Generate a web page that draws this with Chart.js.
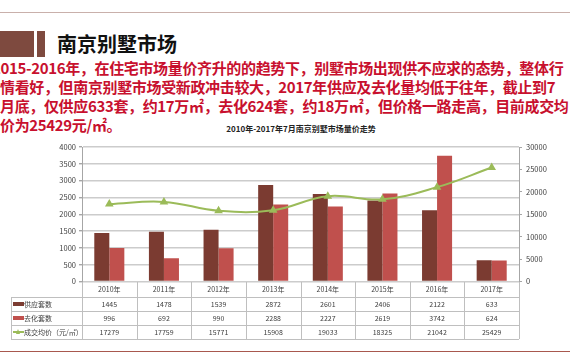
<!DOCTYPE html>
<html>
<head>
<meta charset="utf-8">
<script src="https://cdn.jsdelivr.net/npm/chart.js@4.4.0/dist/chart.umd.min.js"></script>
<style>
  body { margin: 0; width: 570px; height: 360px; overflow: hidden; background: #fff; position: relative;
         font-family: "Noto Sans CJK SC", sans-serif; }
  .abs { position: absolute; }
  .para { position: absolute; white-space: nowrap; color: #c8102e; font-weight: bold; font-size: 15px; line-height: 19px; letter-spacing: -0.35px; }
  .cell { position: absolute; font-size: 7px; color: #404040; text-align: center; line-height: 14px; white-space: nowrap; }
  .ln { position: absolute; background: #bfbfbf; }
</style>
</head>
<body>
<div class="abs" style="left:0;top:12px;width:570px;height:1px;background:#c9b0ab"></div>
<div class="abs" style="left:0;top:31px;width:34px;height:26px;background:#7e4a3f"></div>
<div class="abs" style="left:37px;top:31px;width:8px;height:26px;background:#7e4a3f"></div>
<div class="abs" style="left:57px;top:31px;font-size:20px;font-weight:bold;color:#111;line-height:26px;white-space:nowrap">南京别墅市场</div>

<div class="para" style="left:-8px;top:58px">2015-2016年，在住宅市场量价齐升的的趋势下，别墅市场出现供不应求的态势，整体行</div>
<div class="para" style="left:0;top:77px">情看好，但南京别墅市场受新政冲击较大，2017年供应及去化量均低于往年，截止到7</div>
<div class="para" style="left:0;top:96px">月底，仅供应633套，约17万㎡，去化624套，约18万㎡，但价格一路走高，目前成交均</div>
<div class="para" style="left:0;top:115px">价为25429元/㎡。</div>

<div class="abs" style="left:0;top:123px;width:570px;text-align:center;padding-left:32px;box-sizing:border-box;font-size:8px;font-weight:bold;color:#222;line-height:12px">2010年-2017年7月南京别墅市场量价走势</div>

<div class="abs" style="left:0;top:138px;width:570px;height:152px"><canvas id="c"></canvas></div>
<div id="tbl"></div>
<div class="abs" style="left:0;top:351px;width:570px;height:1px;background:#a8584e"></div>

<script>
// 数据
const years = ['2010年', '2011年', '2012年', '2013年', '2014年', '2015年', '2016年', '2017年']
const supply = [1445, 1478, 1539, 2872, 2601, 2406, 2122, 633] // 供应套数
const sold = [996, 692, 990, 2288, 2227, 2619, 3742, 624] // 去化套数
const price = [17279, 17759, 15771, 15908, 19033, 18325, 21042, 25429] // 成交均价
const seriesNames = ['供应套数', '去化套数', '成交均价（元/㎡）']
const seriesColors = ['#7b3b31', '#c0504d', '#9bbb59']
const leftMax = 4000, leftStep = 500
const rightMax = 30000, rightStep = 5000

const tickFont = {family: '"Noto Sans CJK SC", sans-serif', size: 7.5}

const chart = new Chart(document.getElementById('c'), {
    data: {
        labels: years,
        datasets: [
            {type: 'line', label: seriesNames[2], data: price, yAxisID: 'y1', order: 0,
                borderColor: seriesColors[2], backgroundColor: seriesColors[2], borderWidth: 2,
                tension: 0.4, pointStyle: 'triangle', pointRadius: 3},
            {type: 'bar', label: seriesNames[0], data: supply, yAxisID: 'y', order: 1,
                backgroundColor: seriesColors[0], categoryPercentage: 0.55, barPercentage: 1},
            {type: 'bar', label: seriesNames[1], data: sold, yAxisID: 'y', order: 1,
                backgroundColor: seriesColors[1], categoryPercentage: 0.55, barPercentage: 1}
        ]
    },
    options: {
        responsive: true,
        maintainAspectRatio: false,
        animation: false,
        layout: {padding: {top: 9, bottom: 8, left: 0, right: 0}},
        plugins: {legend: {display: false}, tooltip: {enabled: false}},
        scales: {
            x: {display: false},
            y: {
                position: 'left', min: 0, max: leftMax,
                ticks: {stepSize: leftStep, font: tickFont, color: '#404040', padding: 3, callback: v => String(v)},
                grid: {color: '#cccccc', lineWidth: 1.4, tickLength: 3, tickColor: '#a6a6a6'},
                border: {color: '#a6a6a6'},
                afterFit: s => { s.width = 82 }
            },
            y1: {
                position: 'right', min: 0, max: rightMax,
                ticks: {stepSize: rightStep, font: tickFont, color: '#404040', padding: 4, callback: v => String(v)},
                grid: {drawOnChartArea: false, tickLength: 3, tickColor: '#a6a6a6'},
                border: {color: '#a6a6a6'},
                afterFit: s => { s.width = 51 }
            }
        }
    }
})

// 数据表
function buildTable() {
    const area = chart.chartArea
    const top = 138 + area.bottom
    const left = area.left, right = area.right
    const colW = (right - left) / years.length
    const rows = [top, top + 15, top + 29, top + 43, top + 57]
    const tbl = document.getElementById('tbl')
    let html = ''
    const hline = (x1, x2, y) => `<div class="ln" style="left:${x1}px;top:${y}px;width:${x2 - x1}px;height:1px"></div>`
    const vline = (x, y1, y2) => `<div class="ln" style="left:${x}px;top:${y1}px;width:1px;height:${y2 - y1}px"></div>`

    for (let r = 1; r < rows.length; r++) html += hline(11, right, rows[r])
    html += vline(11, rows[1], rows[4])
    for (let k = 0; k <= years.length; k++) html += vline(Math.round(left + k * colW), rows[0], rows[4])

    const rowVals = [years, supply, sold, price]
    for (let r = 0; r < 4; r++) {
        for (let i = 0; i < years.length; i++) {
            const cx = left + i * colW
            html += `<div class="cell" style="left:${cx}px;top:${rows[r] + 0.5}px;width:${colW}px">${rowVals[r][i]}</div>`
        }
    }
    // 图例
    for (let s = 0; s < 3; s++) {
        const y = rows[s + 1]
        if (s < 2) {
            html += `<div class="abs" style="left:13px;top:${y + 5}px;width:11px;height:4px;background:${seriesColors[s]}"></div>`
        } else {
            html += `<div class="abs" style="left:13px;top:${y + 6.5}px;width:11px;height:1.5px;background:${seriesColors[s]}"></div>`
            html += `<div class="abs" style="left:16px;top:${y + 4}px;width:0;height:0;border-left:2.5px solid transparent;border-right:2.5px solid transparent;border-bottom:5px solid ${seriesColors[s]}"></div>`
        }
        html += `<div class="cell" style="left:24px;top:${y + 0.5}px;text-align:left">${seriesNames[s]}</div>`
    }
    tbl.innerHTML = html
}
buildTable()
</script>
</body>
</html>
